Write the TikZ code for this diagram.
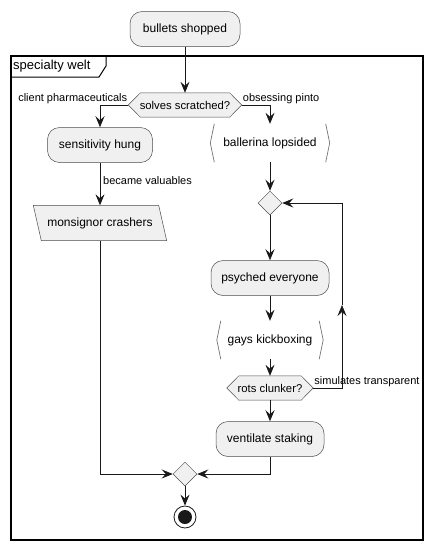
\documentclass[tikz,border=0pt]{standalone}
\usepackage{fontspec}
\setmainfont{Liberation Sans}
\usetikzlibrary{arrows.meta}
\usetikzlibrary{shapes.geometric}
\tikzset{act/.style = {draw=black!70, fill=black!6, rounded corners=12, line width=0.5, minimum height=35, inner sep=0, font=\fontsize{12}{14}\selectfont}}
\tikzset{cond/.style = {minimum height=24, inner sep=0, font=\fontsize{11.3}{13}\selectfont}}
\tikzset{merge/.style = {draw=black!70, fill=black!6, diamond, line width=0.5, minimum width=24, minimum height=24, inner sep=0}}
\tikzset{bare/.style = {minimum height=38, inner sep=0, font=\fontsize{12}{14}\selectfont}}
\tikzset{chevron/.style = {draw=black!55, line width=0.7}}
\tikzset{outline/.style = {draw=black!70, fill=black!6, line width=0.5}}
\tikzset{flowlabel/.style = {inner sep=1, font=\fontsize{11}{13}\selectfont}}
\tikzset{flow/.style = {line width=0.8, draw=black!90, -{Stealth[length=11, width=9, inset=4]}}}

\begin{document}
\begin{tikzpicture}[x=1pt, y=-1pt]
    \useasboundingbox (0, 0) rectangle (432, 550);

    % partition frame
    \draw [line width=1.5] (11, 56) rectangle (423, 540);
    \draw [line width=1] (11, 77) -- (99, 77) -- (106, 66) -- (106, 56);
    \node [anchor=west, inner sep=0, font=\fontsize{13}{15}\selectfont] (framename) at (13, 66) {specialty welt};

    \node [act, minimum width=110] (shopped) at (185, 29) {bullets shopped};

    \node [cond, minimum width=113] (solves) at (185, 105) {};
    \filldraw [outline] (solves.west) -- ([xshift=12]solves.north west) -- ([xshift=-12]solves.north east)
      -- (solves.east) -- ([xshift=-12]solves.south east) -- ([xshift=12]solves.south west) -- cycle;
    \node [cond] at (solves) {solves scratched?};

    % left branch
    \node [act, minimum width=105] (hung) at (100, 145) {sensitivity hung};
    \node [bare, minimum width=125, minimum height=35] (crashers) at (100, 223) {};
    \filldraw [outline] ([xshift=-4]crashers.north west) -- ([xshift=-4]crashers.north east)
      -- ([xshift=4]crashers.south east) -- ([xshift=4]crashers.south west) -- cycle;
    \node [bare] at (crashers) {monsignor crashers};

    % right branch
    \node [bare, minimum width=119] (lopsided) at (270, 143) {ballerina lopsided};
    \draw [chevron] ([xshift=4]lopsided.north west) -- (lopsided.west) -- ([xshift=4]lopsided.south west);
    \draw [chevron] ([xshift=-4]lopsided.north east) -- (lopsided.east) -- ([xshift=-4]lopsided.south east);

    \node [merge] (loop) at (270, 203) {};
    \node [act, minimum width=118] (everyone) at (270, 278) {psyched everyone};

    \node [bare, minimum width=106] (kickboxing) at (270, 340) {gays kickboxing};
    \draw [chevron] ([xshift=4]kickboxing.north west) -- (kickboxing.west) -- ([xshift=4]kickboxing.south west);
    \draw [chevron] ([xshift=-4]kickboxing.north east) -- (kickboxing.east) -- ([xshift=-4]kickboxing.south east);

    \node [cond, minimum width=86] (clunker) at (270, 388) {};
    \filldraw [outline] (clunker.west) -- ([xshift=12]clunker.north west) -- ([xshift=-12]clunker.north east)
      -- (clunker.east) -- ([xshift=-12]clunker.south east) -- ([xshift=12]clunker.south west) -- cycle;
    \node [cond] at (clunker) {rots clunker?};

    \node [act, minimum width=108] (staking) at (270, 439) {ventilate staking};

    \node [merge] (join) at (185, 474) {};
    \node [circle, draw=black!90, line width=0.8, minimum size=22, inner sep=0] (stop) at (185, 517) {};
    \fill [black!90] (stop.center) circle (7);

    % connectors
    \draw [flow] (shopped) -- (solves);
    \draw [flow] (solves.west) -| (hung.north);
    \draw [flow] (solves.east) -| (lopsided.north);
    \node [flowlabel, anchor=south east] (clientlabel) at (solves.west) {client pharmaceuticals};
    \node [flowlabel, anchor=south west] (pintolabel) at (solves.east) {obsessing pinto};

    \draw [flow] (hung) -- (crashers);
    \node [flowlabel, anchor=west] (valuables) at (102, 181) {became valuables};

    \draw [flow] (lopsided) -- (loop);
    \draw [flow] (loop) -- (everyone);
    \draw [flow] (everyone) -- (kickboxing);
    \draw [flow] (kickboxing) -- (clunker);
    \draw [flow] (clunker) -- (staking);

    \coordinate (backup) at (342, 305);
    \draw [flow] (clunker.east) -| (backup);
    \draw [flow] (backup) |- (loop.east);
    \node [flowlabel, anchor=south west] (transparent) at (clunker.east) {simulates transparent};

    \draw [flow] (crashers.south) |- (join.west);
    \draw [flow] (staking.south) |- (join.east);
    \draw [flow] (join) -- (stop);
  \end{tikzpicture}
\end{document}
